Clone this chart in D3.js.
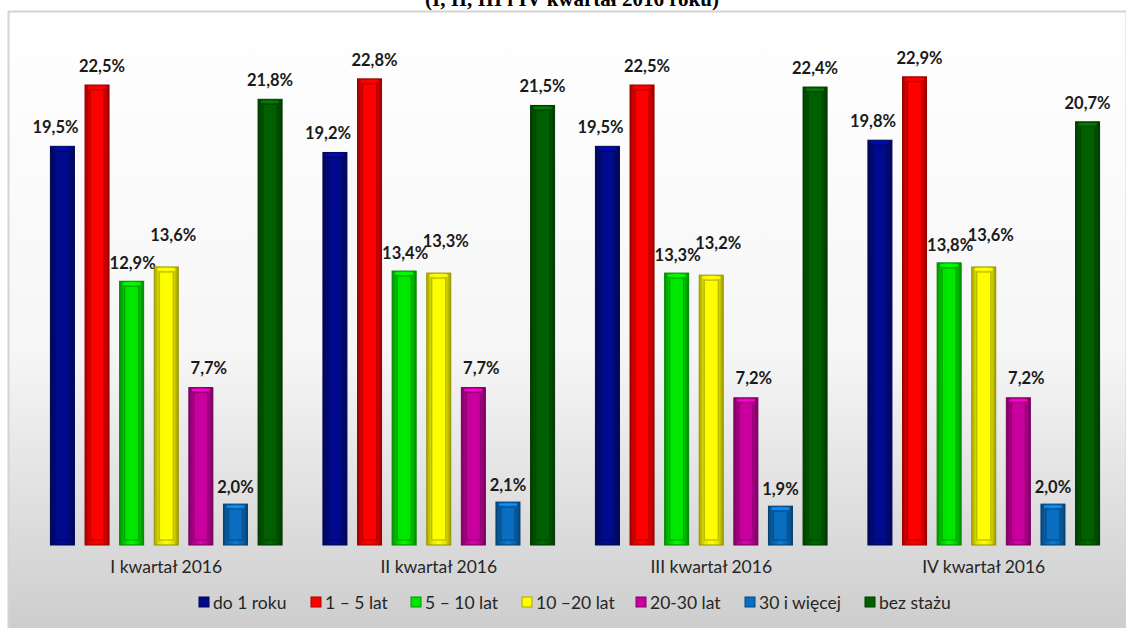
<!DOCTYPE html>
<html>
<head>
<meta charset="utf-8">
<script src="https://cdn.jsdelivr.net/npm/d3@7"></script>
<style>
  body { margin: 0; background: #fff; }
  svg { display: block; }
</style>
</head>
<body>
<div id="chart"></div>
<script>
var quarters = ["I kwartał 2016", "II kwartał 2016", "III kwartał 2016", "IV kwartał 2016"];
var seriesNames = ["do 1 roku", "1 – 5 lat", "5 – 10 lat", "10 –20 lat", "20-30 lat", "30 i więcej", "bez stażu"];
var seriesColors = ["#000a8c", "#ff0000", "#00e600", "#ffff00", "#c8009e", "#0a6ec0", "#006000"];
// values in %, one array per quarter
var q1 = [19.5, 22.5, 12.9, 13.6, 7.7, 2.0, 21.8];
var q2 = [19.2, 22.8, 13.4, 13.3, 7.7, 2.1, 21.5];
var q3 = [19.5, 22.5, 13.3, 13.2, 7.2, 1.9, 22.4];
var q4 = [19.8, 22.9, 13.8, 13.6, 7.2, 2.0, 20.7];
var values = [q1, q2, q3, q4];

var width = 1126, height = 628;
var margin = { top: 30, right: 6, bottom: 83, left: 30 };
var font = "Lato, 'Open Sans', sans-serif";

var svg = d3.select("#chart").append("svg")
  .attr("width", width)
  .attr("height", height);

var defs = svg.append("defs");

// background gradient of the chart area
var bg = defs.append("linearGradient").attr("id", "bg")
  .attr("x1", 0).attr("y1", 0).attr("x2", 0).attr("y2", 1);
bg.append("stop").attr("offset", "0%").attr("stop-color", "#ffffff");
bg.append("stop").attr("offset", "55%").attr("stop-color", "#f6f6f6");
bg.append("stop").attr("offset", "100%").attr("stop-color", "#cdcdcd");

// bevel gradients for each series
seriesColors.forEach(function(c, i) {
  var g = defs.append("linearGradient").attr("id", "bar" + i)
    .attr("x1", 0).attr("y1", 0).attr("x2", 1).attr("y2", 0);
  var col = d3.color(c);
  g.append("stop").attr("offset", "0%").attr("stop-color", col.darker(1.2));
  g.append("stop").attr("offset", "22%").attr("stop-color", col.darker(0.3));
  g.append("stop").attr("offset", "50%").attr("stop-color", col.brighter(0.3));
  g.append("stop").attr("offset", "78%").attr("stop-color", col.darker(0.3));
  g.append("stop").attr("offset", "100%").attr("stop-color", col.darker(1.4));
});

// title, cut off at the top of the picture like in the source
svg.append("text")
  .attr("x", 572)
  .attr("y", 6)
  .attr("text-anchor", "middle")
  .style("font-family", "'Liberation Serif', serif")
  .style("font-weight", "bold")
  .style("font-size", "21px")
  .text("(I, II, III i IV kwartał 2016 roku)");

// chart frame
svg.append("rect")
  .attr("x", 8.5)
  .attr("y", 11.5)
  .attr("width", width - 8)
  .attr("height", height - 10)
  .attr("fill", "url(#bg)")
  .attr("stroke", "#d4d4d4")
  .attr("stroke-width", 2);

var x0 = d3.scaleBand()
  .domain(quarters)
  .range([margin.left, width - margin.right])
  .padding(0);

var x1 = d3.scaleBand()
  .domain(d3.range(seriesNames.length))
  .range([0, x0.bandwidth()])
  .paddingInner(0.306)
  .paddingOuter(0.59);

var y = d3.scaleLinear()
  .domain([0, 22.5])
  .range([height - margin.bottom, 85]);

// label offsets (Excel nudges them to avoid overlaps)
var labelDx = [-7, 5, 1, 7, 8, 0, 0];
var labelDy = [-13, -13, -12, -26, -14, -11, -13];

var groups = svg.selectAll("g.quarter")
  .data(quarters)
  .enter().append("g")
  .attr("class", "quarter")
  .attr("transform", function(d) { return "translate(" + x0(d) + ",0)"; });

groups.each(function(q, qi) {
  var g = d3.select(this);
  var data = values[qi].map(function(v, i) { return { i: i, v: v }; });

  var bar = g.selectAll("g.bar")
    .data(data)
    .enter().append("g")
    .attr("class", "bar");

  bar.append("rect")
    .attr("x", function(d) { return x1(d.i); })
    .attr("y", function(d) { return y(d.v); })
    .attr("width", x1.bandwidth())
    .attr("height", function(d) { return y(0) - y(d.v); })
    .attr("fill", function(d) { return "url(#bar" + d.i + ")"; })
    .attr("stroke", function(d) { return d3.color(seriesColors[d.i]).darker(1.5); })
    .attr("stroke-width", 1);

  // inner bevel face
  bar.append("rect")
    .attr("x", function(d) { return x1(d.i) + 5; })
    .attr("y", function(d) { return y(d.v) + 5; })
    .attr("width", x1.bandwidth() - 10)
    .attr("height", function(d) { return Math.max(0, y(0) - y(d.v) - 10); })
    .attr("fill", function(d) { return seriesColors[d.i]; })
    .attr("stroke", function(d) { return d3.color(seriesColors[d.i]).darker(1); })
    .attr("stroke-width", 1.2)
    .attr("opacity", 0.9);

  // top highlight
  bar.append("line")
    .attr("x1", function(d) { return x1(d.i) + 3; })
    .attr("x2", function(d) { return x1(d.i) + x1.bandwidth() - 3; })
    .attr("y1", function(d) { return y(d.v) + 2.5; })
    .attr("y2", function(d) { return y(d.v) + 2.5; })
    .attr("stroke", function(d) { return d3.color(seriesColors[d.i]).brighter(0.8); })
    .attr("stroke-width", 2);

  bar.append("text")
    .attr("x", function(d) { return x1(d.i) + x1.bandwidth() / 2 + labelDx[d.i]; })
    .attr("y", function(d) { return y(d.v) + labelDy[d.i]; })
    .attr("text-anchor", "middle")
    .style("font-family", font)
    .style("font-weight", "bold")
    .style("font-size", "16.5px")
    .attr("fill", "#1a1a1a")
    .text(function(d) { return d.v.toFixed(1).replace(".", ",") + "%"; });
});

// category axis labels
var xAxis = d3.axisBottom(x0).tickSize(0).tickPadding(0);
var axisG = svg.append("g")
  .attr("transform", "translate(0," + (y(0) + 28) + ")")
  .call(xAxis);
axisG.select(".domain").remove();
axisG.selectAll("text")
  .attr("dy", 0)
  .attr("fill", "#262626")
  .style("font-family", font)
  .style("font-size", "17.5px");

// legend
var legendX = [199, 311, 411, 522, 636, 745, 865];
var legend = svg.append("g").attr("class", "legend");
var item = legend.selectAll("g")
  .data(seriesNames)
  .enter().append("g")
  .attr("transform", function(d, i) { return "translate(" + legendX[i] + ",603)"; });
item.append("rect")
  .attr("x", 0).attr("y", -6)
  .attr("width", 10).attr("height", 10)
  .attr("fill", function(d, i) { return seriesColors[i]; })
  .attr("stroke", function(d, i) { return d3.color(seriesColors[i]).darker(1.2); })
  .attr("stroke-width", 1);
item.append("text")
  .attr("x", 14)
  .attr("y", 5.5)
  .attr("fill", "#262626")
  .style("font-family", font)
  .style("font-size", "17.5px")
  .text(function(d) { return d; });
</script>
</body>
</html>
